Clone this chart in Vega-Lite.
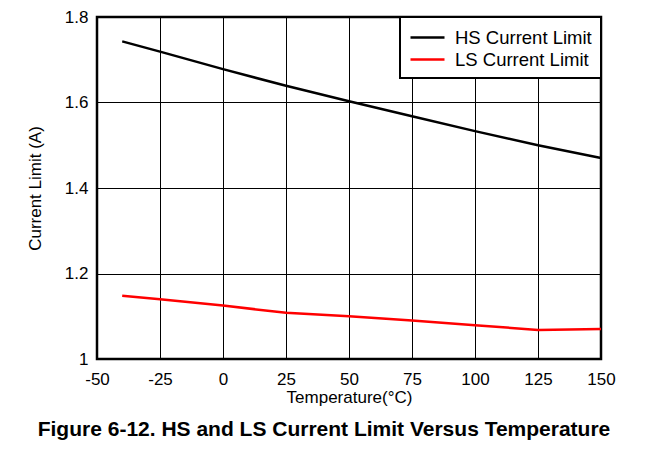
{
  "$schema": "https://vega.github.io/schema/vega-lite/v6.json",
  "autosize": {"type": "none"},
  "padding": {"left": 97, "top": 17, "right": 52, "bottom": 90},
  "width": 504,
  "height": 342,
  "background": "white",
  "title": {
    "text": "Figure 6-12. HS and LS Current Limit Versus Temperature",
    "orient": "bottom",
    "anchor": "middle",
    "font": "Liberation Sans",
    "fontSize": 21,
    "fontWeight": "bold",
    "color": "black",
    "offset": 14,
    "dx": -25
  },
  "config": {
    "font": "Liberation Sans",
    "view": {"stroke": "black", "strokeWidth": 2.5},
    "axis": {
      "gridColor": "black",
      "gridOpacity": 1,
      "gridWidth": 1,
      "domain": false,
      "ticks": false,
      "labelFlush": false,
      "labelOverlap": false,
      "labelColor": "black",
      "labelFontSize": 17,
      "titleColor": "black",
      "titleFontSize": 17,
      "titleFontWeight": "normal"
    },
    "legend": {
      "strokeColor": "black",
      "strokeWidth": 2,
      "fillColor": "white",
      "padding": 9,
      "offset": 0
    }
  },
  "data": {
    "values": [
      {"temp": -40, "current": 1.743, "series": "HS Current Limit"},
      {"temp": -25, "current": 1.719, "series": "HS Current Limit"},
      {"temp": 0, "current": 1.678, "series": "HS Current Limit"},
      {"temp": 25, "current": 1.639, "series": "HS Current Limit"},
      {"temp": 50, "current": 1.603, "series": "HS Current Limit"},
      {"temp": 75, "current": 1.568, "series": "HS Current Limit"},
      {"temp": 100, "current": 1.533, "series": "HS Current Limit"},
      {"temp": 125, "current": 1.500, "series": "HS Current Limit"},
      {"temp": 150, "current": 1.470, "series": "HS Current Limit"},
      {"temp": -40, "current": 1.148, "series": "LS Current Limit"},
      {"temp": -25, "current": 1.140, "series": "LS Current Limit"},
      {"temp": 0, "current": 1.125, "series": "LS Current Limit"},
      {"temp": 25, "current": 1.108, "series": "LS Current Limit"},
      {"temp": 50, "current": 1.100, "series": "LS Current Limit"},
      {"temp": 75, "current": 1.090, "series": "LS Current Limit"},
      {"temp": 100, "current": 1.079, "series": "LS Current Limit"},
      {"temp": 125, "current": 1.068, "series": "LS Current Limit"},
      {"temp": 150, "current": 1.070, "series": "LS Current Limit"}
    ]
  },
  "mark": {"type": "line", "strokeWidth": 2.5},
  "encoding": {
    "x": {
      "field": "temp",
      "type": "quantitative",
      "scale": {"domain": [-50, 150], "nice": false},
      "axis": {
        "values": [-50, -25, 0, 25, 50, 75, 100, 125, 150],
        "labelExpr": "datum.value < 0 ? '-' + abs(datum.value) : '' + datum.value",
        "title": "Temperature(°C)",
        "labelPadding": 12,
        "titlePadding": 2
      }
    },
    "y": {
      "field": "current",
      "type": "quantitative",
      "scale": {"domain": [1, 1.8], "nice": false, "zero": false},
      "axis": {"values": [1, 1.2, 1.4, 1.6, 1.8], "format": ".2~f", "title": "Current Limit (A)", "labelPadding": 9, "titlePadding": 20}
    },
    "color": {
      "field": "series",
      "type": "nominal",
      "scale": {"domain": ["HS Current Limit", "LS Current Limit"], "range": ["black", "#ff0000"]},
      "legend": {
        "title": null,
        "orient": "top-right",
        "symbolType": "M-1.7,0L1.7,0",
        "symbolSize": 400,
        "symbolStrokeWidth": 2.5,
        "symbolOffset": 7,
        "labelFontSize": 18.5,
        "labelColor": "black",
        "labelLimit": 300,
        "labelOffset": 16,
        "rowPadding": 1
      }
    }
  }
}
